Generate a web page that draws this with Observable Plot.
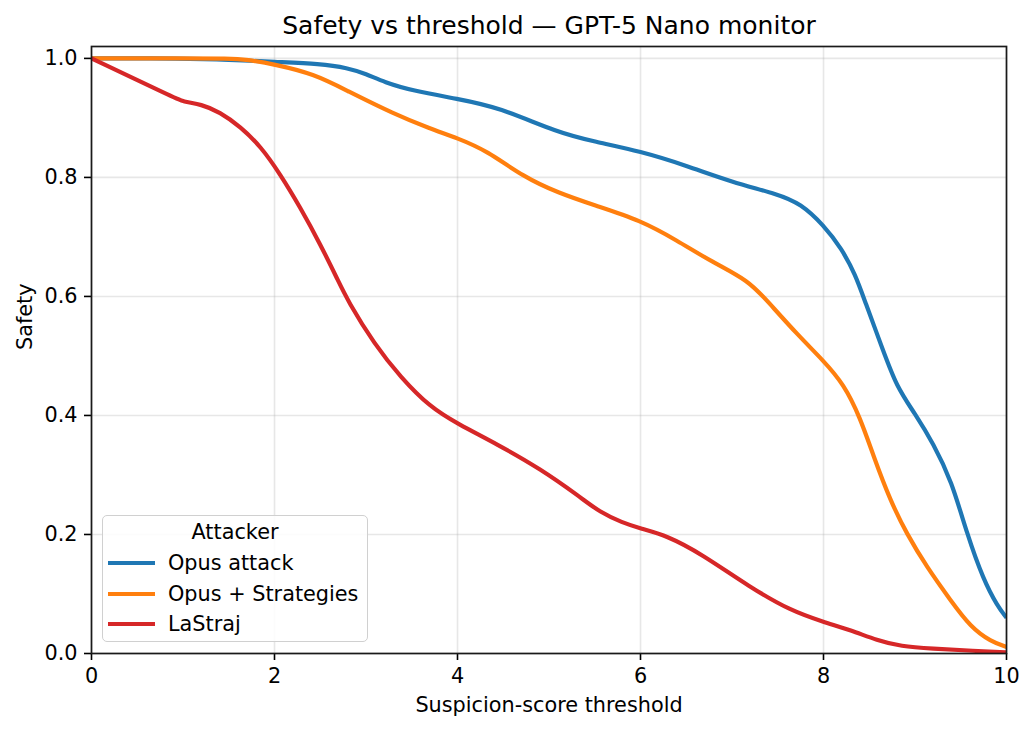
<!DOCTYPE html>
<html>
<head>
<meta charset="utf-8">
<script src="https://cdn.jsdelivr.net/npm/d3@7"></script>
<script src="https://cdn.jsdelivr.net/npm/@observablehq/plot@0.6"></script>
<style>
  html, body { margin: 0; padding: 0; background: #fff; }
  #wrap { position: relative; width: 1034px; height: 731px; font-family: "DejaVu Sans", sans-serif; }
  #legend { position: absolute; left: 102px; top: 515px; width: 264px; height: 125px;
    border: 1.6px solid #d0d0d0; border-radius: 5px; background: rgba(255,255,255,0.85); }
  #legend .t { position: absolute; left: 0; width: 100%; text-align: center; font-size: 20.8px; line-height: 24px; color: #000; }
  #legend .row { position: absolute; left: 0; width: 100%; height: 24px; }
  #legend .sw { position: absolute; left: 5px; top: 10px; width: 47px; height: 4.2px; }
  #legend .lab { position: absolute; left: 65px; top: 0; font-size: 20.8px; line-height: 24px; color: #000; white-space: nowrap; }
</style>
</head>
<body>
<div id="wrap"></div>
<script>
const titleText = "Safety vs threshold — GPT-5 Nano monitor";
const xLabel = "Suspicion-score threshold";
const yLabel = "Safety";
const legendTitle = "Attacker";
const seriesNames = ["Opus attack", "Opus + Strategies", "LaStraj"];
const seriesColors = ["#1f77b4", "#ff7f0e", "#d62728"];
const xTicks = [0, 2, 4, 6, 8, 10];
const yTicks = [0, 0.2, 0.4, 0.6, 0.8, 1.0];

const opusX = [0, 1, 1.5, 2, 2.5, 2.8, 3, 3.2, 3.5, 4, 4.45, 5.1, 5.5, 6, 6.5, 7, 7.5, 7.75, 8, 8.2, 8.35, 8.45, 8.65, 8.8, 9, 9.2, 9.4, 9.57, 9.75, 9.9, 10];
const opusY = [1.0, 1.0, 0.998, 0.994, 0.991, 0.984, 0.974, 0.96, 0.946, 0.932, 0.918, 0.875, 0.86, 0.844, 0.82, 0.792, 0.772, 0.756, 0.72, 0.68, 0.636, 0.593, 0.51, 0.448, 0.403, 0.353, 0.29, 0.2, 0.123, 0.08, 0.06];

const stratX = [0, 1, 1.5, 1.7, 2, 2.43, 2.79, 3.3, 3.7, 4, 4.32, 4.72, 5.1, 5.5, 6, 6.4, 6.78, 7.18, 7.4, 7.72, 8, 8.22, 8.4, 8.55, 8.73, 8.91, 9.13, 9.39, 9.61, 9.83, 10];
const stratY = [1.0, 1.0, 1.0, 0.998, 0.99, 0.974, 0.946, 0.907, 0.882, 0.866, 0.845, 0.801, 0.774, 0.753, 0.728, 0.694, 0.658, 0.627, 0.59, 0.535, 0.492, 0.453, 0.397, 0.33, 0.257, 0.201, 0.145, 0.089, 0.044, 0.02, 0.011];

const lastrajX = [0, 0.9, 1, 1.2, 1.4, 1.63, 1.85, 2.06, 2.28, 2.5, 2.7, 2.8, 3.09, 3.38, 3.7, 4, 4.43, 4.91, 5.34, 5.56, 5.8, 6, 6.29, 6.66, 7.2, 7.64, 8, 8.3, 8.59, 8.84, 9.2, 9.57, 10];
const lastrajY = [1.0, 0.9343, 0.927, 0.923, 0.91, 0.885, 0.852, 0.806, 0.75, 0.688, 0.625, 0.593, 0.52, 0.464, 0.414, 0.386, 0.352, 0.31, 0.263, 0.237, 0.22, 0.21, 0.198, 0.168, 0.111, 0.072, 0.053, 0.039, 0.022, 0.012, 0.008, 0.005, 0.002];

const rows = [];
[[opusX, opusY], [stratX, stratY], [lastrajX, lastrajY]].forEach(([xs, ys], i) => {
  xs.forEach((x, j) => rows.push({series: seriesNames[i], x, y: ys[j]}));
});

const fmt = d3.format(".1f");

const chart = Plot.plot({
  width: 1034,
  height: 731,
  marginLeft: 91,
  marginRight: 28,
  marginTop: 46,
  marginBottom: 78,
  style: {fontFamily: "DejaVu Sans, sans-serif", fontSize: "20.8px", color: "#000", background: "#fff"},
  x: {domain: [0, 10], ticks: xTicks, label: null},
  y: {domain: [0, 1.02], ticks: yTicks, label: null, tickFormat: fmt},
  color: {domain: seriesNames, range: seriesColors},
  marks: [
    Plot.gridX(xTicks, {stroke: "#b0b0b0", strokeOpacity: 0.3, strokeWidth: 1.6}),
    Plot.gridY(yTicks, {stroke: "#b0b0b0", strokeOpacity: 0.3, strokeWidth: 1.6}),
    Plot.line(rows, {x: "x", y: "y", z: "series", stroke: "series", strokeWidth: 4.2, curve: "basis", clip: true, strokeLinejoin: "round", strokeLinecap: "butt"}),
    Plot.axisX(xTicks, {tickSize: 7, tickPadding: 8, strokeWidth: 1.6, stroke: "#000", fill: "#000", fontSize: 20.8, label: null}),
    Plot.axisY(yTicks, {tickSize: 7, tickPadding: 7, strokeWidth: 1.6, stroke: "#000", fill: "#000", fontSize: 20.8, tickFormat: fmt, label: null}),
    Plot.frame({stroke: "#1a1a1a", strokeWidth: 1.7}),
    Plot.text([titleText], {frameAnchor: "top", dy: -20.5, lineAnchor: "middle", fontSize: 25, fill: "#000"}),
    Plot.text([xLabel], {frameAnchor: "bottom", dy: 52, lineAnchor: "middle", fontSize: 20.8, fill: "#000"}),
    Plot.text([yLabel], {frameAnchor: "left", dx: -66.5, rotate: -90, lineAnchor: "middle", fontSize: 20.8, fill: "#000"})
  ]
});

const wrap = document.getElementById("wrap");
wrap.appendChild(chart);

const legend = document.createElement("div");
legend.id = "legend";
const lt = document.createElement("div");
lt.className = "t";
lt.style.top = "4px";
lt.textContent = legendTitle;
legend.appendChild(lt);
const rowTops = [35, 65.5, 96];
seriesNames.forEach((name, i) => {
  const r = document.createElement("div");
  r.className = "row";
  r.style.top = rowTops[i] + "px";
  const sw = document.createElement("div");
  sw.className = "sw";
  sw.style.background = seriesColors[i];
  const lab = document.createElement("div");
  lab.className = "lab";
  lab.textContent = name;
  r.appendChild(sw);
  r.appendChild(lab);
  legend.appendChild(r);
});
wrap.appendChild(legend);
</script>
</body>
</html>
